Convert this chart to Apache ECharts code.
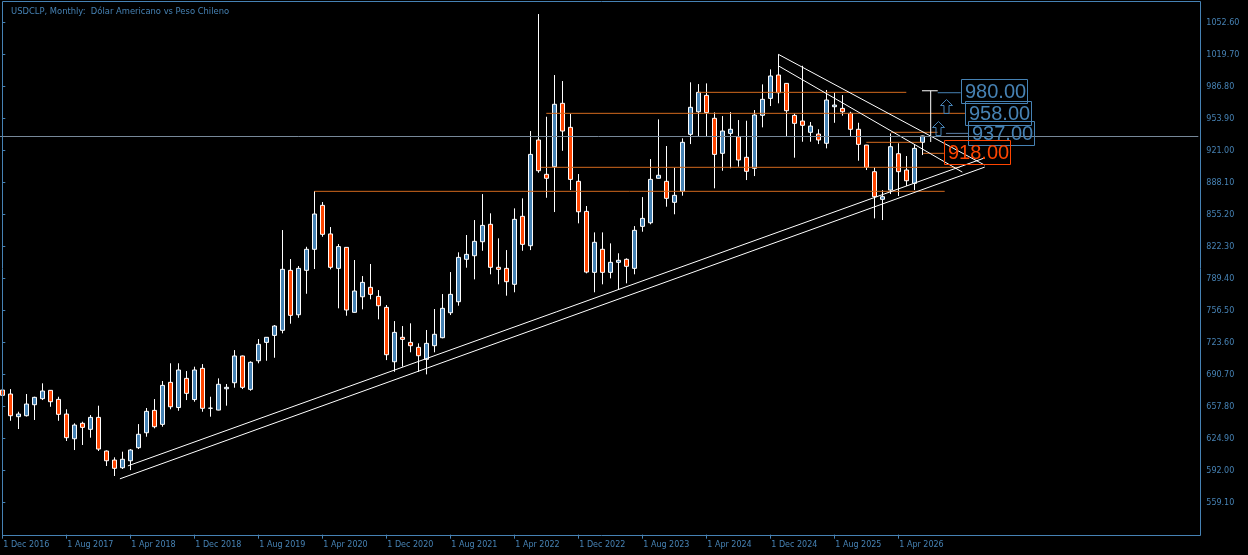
<!DOCTYPE html>
<html>
<head>
<meta charset="utf-8">
<script src="https://cdn.jsdelivr.net/npm/echarts@6/dist/echarts.min.js"></script>
<style>
  html, body { margin: 0; padding: 0; background: #000; }
  #chart { width: 1248px; height: 555px; }
</style>
</head>
<body>
<div id="chart"></div>
<script>
// meses (eje X): Dec 2016 ... con huecos a la derecha
const monthNames = ['Jan', 'Feb', 'Mar', 'Apr', 'May', 'Jun', 'Jul', 'Aug', 'Sep', 'Oct', 'Nov', 'Dec'];
const slotCount = 150;
const lastDataIndex = 115;
const categories = [];
for (let i = 0; i < slotCount; i++) {
  const m = (11 + i) % 12;
  const y = 2016 + Math.floor((11 + i) / 12);
  categories.push('1 ' + monthNames[m] + ' ' + y);
}

// velas mensuales USDCLP
const opens = [674.9, 670.8, 647.5, 648.5, 659.8, 666.0, 674.6, 665.3, 650.2, 624.8, 640.7, 634.5, 646.8, 612.2, 602.9, 595.0, 602.2, 615.6, 631.0, 654.0,
  639.6, 682.8, 656.9, 686.9, 665.1, 697.2, 656.3, 654.3, 676.2, 682.4, 709.9, 675.6, 705.0, 723.9, 731.1, 736.3, 798.0, 752.3, 798.0, 819.6,
  864.8, 835.4, 800.0, 821.6, 754.8, 770.8, 780.5, 771.2, 759.9, 704.0, 729.1, 723.9, 718.8, 706.5, 720.5, 728.7, 754.4, 765.7, 809.3, 813.0,
  827.4, 845.3, 801.1, 800.0, 783.6, 853.5, 823.3, 932.0, 896.7, 904.5, 969.7, 945.0, 889.5, 858.6, 795.9, 819.6, 795.9, 806.2, 809.3, 800.0,
  843.2, 846.9, 892.6, 889.5, 867.9, 879.2, 937.8, 961.0, 977.9, 954.3, 918.3, 938.8, 935.3, 914.2, 902.9, 957.4, 974.8, 998.8, 990.2, 957.3,
  951.5, 939.9, 938.1, 928.6, 966.2, 964.5, 959.4, 943.0, 926.8, 899.4, 871.0, 880.5, 917.9, 901.1, 887.4, 929.6];
const closes = [669.5, 648.5, 650.2, 660.5, 667.4, 673.9, 662.9, 649.9, 625.9, 638.9, 636.5, 646.8, 614.2, 602.2, 594.4, 603.7, 613.2, 629.4, 653.0, 637.2,
  679.7, 657.7, 695.5, 671.5, 695.5, 656.1, 656.1, 680.8, 677.7, 709.9, 677.7, 703.4, 721.9, 729.1, 740.7, 799.0, 751.7, 800.0, 819.6, 855.9,
  835.0, 801.1, 822.4, 757.2, 776.7, 785.6, 773.3, 761.6, 711.2, 734.2, 727.0, 720.5, 710.2, 722.9, 732.2, 758.9, 773.3, 811.3, 814.4, 827.8,
  844.2, 801.1, 799.0, 786.3, 850.4, 824.7, 917.2, 900.4, 892.6, 968.7, 941.2, 891.5, 858.2, 796.2, 826.8, 795.9, 806.2, 808.3, 802.1, 839.1,
  851.4, 891.5, 895.7, 872.0, 875.1, 929.6, 965.6, 981.0, 960.2, 917.2, 941.2, 943.0, 911.4, 899.8, 957.7, 973.8, 997.8, 980.6, 962.1, 949.1,
  947.1, 946.3, 932.0, 973.1, 967.9, 961.0, 943.0, 927.5, 903.9, 873.7, 873.7, 925.1, 899.4, 890.1, 923.4, 936.1];
const lows = [666.7, 643.3, 634.8, 647.7, 644.1, 664.6, 657.7, 643.3, 622.5, 613.2, 618.4, 625.9, 612.2, 596.8, 586.5, 593.7, 592.6, 614.2, 626.9, 635.5,
  637.2, 655.1, 653.6, 664.6, 662.9, 652.6, 647.5, 654.0, 658.8, 677.3, 675.9, 674.2, 702.4, 705.0, 708.1, 733.2, 743.1, 749.2, 773.9, 799.3,
  832.5, 799.0, 758.9, 751.3, 754.5, 757.9, 768.2, 747.6, 705.7, 693.7, 698.9, 713.7, 693.7, 691.0, 713.7, 728.1, 752.0, 761.6, 800.7, 788.7,
  818.1, 793.9, 783.6, 771.9, 775.4, 818.1, 818.8, 898.3, 872.6, 857.9, 920.9, 880.5, 846.3, 794.9, 775.4, 783.6, 789.7, 778.4, 784.6, 793.9,
  837.7, 845.3, 892.3, 863.4, 855.6, 874.7, 927.8, 935.6, 936.1, 882.3, 900.4, 902.9, 904.5, 890.8, 894.9, 945.0, 966.9, 969.7, 936.1, 913.8,
  930.2, 930.2, 927.8, 923.4, 949.7, 957.0, 936.1, 910.7, 901.1, 851.4, 849.7, 876.4, 874.4, 884.7, 880.5, 916.5];
const highs = [677.0, 675.9, 652.6, 670.8, 668.0, 681.8, 674.9, 668.0, 655.1, 640.7, 642.3, 649.2, 658.8, 612.8, 605.7, 611.5, 614.2, 639.9, 656.4, 665.6,
  684.2, 702.4, 702.4, 694.4, 698.9, 701.6, 668.0, 686.9, 681.1, 716.0, 710.3, 704.4, 727.3, 729.4, 741.7, 839.4, 809.6, 802.4, 822.2, 879.5,
  868.2, 842.5, 825.0, 821.9, 808.6, 792.1, 804.5, 777.7, 762.3, 745.8, 740.7, 743.5, 722.9, 736.6, 758.2, 773.6, 796.2, 816.5, 834.3, 849.7,
  876.4, 856.6, 830.9, 818.8, 861.7, 872.0, 941.2, 1061.5, 955.9, 998.8, 992.6, 958.7, 897.0, 864.1, 837.0, 837.0, 825.7, 815.5, 810.3, 843.5,
  873.3, 912.4, 953.2, 925.8, 903.5, 933.7, 991.3, 989.5, 990.2, 960.4, 956.6, 960.7, 952.5, 951.8, 962.8, 989.2, 1004.6, 1020.1, 990.5, 959.4,
  1008.3, 950.5, 943.0, 983.4, 981.0, 978.2, 961.0, 949.7, 927.0, 903.9, 880.5, 938.8, 928.6, 915.5, 926.8, 936.4];

// precio actual (línea gris)
const lastPrice = 935.8;

// niveles horizontales: [precio, desde índice, hasta índice]
const levels = [
  [879.2, 39, 117.8],
  [903.9, 67.3, 119.7],
  [959.4, 68.0, 120.4],
  [981.0, 87.0, 113.0],
  [939.9, 111.1, 116.9],
  [929.6, 108.0, 114.9],
  [918.3, 115.1, 117.7]
];

// líneas de tendencia: [[índice, precio], [índice, precio]]
const trendLines = [
  [[15.7, 596.9], [122.8, 913.6]],
  [[14.7, 583.6], [122.8, 904.1]],
  [[97.0, 1020.1], [122.8, 906.2]],
  [[97.0, 1008.3], [120.0, 899.0]]
];

// medición (corchete blanco) y conectores
const bracket = [[[116.05, 982.6], [116.05, 929.9]], [[114.96, 982.6], [116.93, 982.6]]];
const connectors = [
  [[116.93, 980.6], [119.8, 980.6]],
  [[117.96, 938.8], [120.75, 938.8]]
];

// etiquetas de precio: texto, esquina superior izquierda [índice, precio]
const priceTags = [
  { text: '980.00', at: [119.80, 994.7], kind: 'up' },
  { text: '958.00', at: [120.37, 972.0], kind: 'up' },
  { text: '937.00', at: [120.75, 951.5], kind: 'up' },
  { text: '918.00', at: [117.71, 932.0], kind: 'down' }
];
// flechas: centro [índice, precio]
const arrows = [[117.96, 966.9], [116.96, 944.0]];

const BLUE = '#4682B4';
const ORANGE = '#FF4500';
const LEVEL = '#D2691E';
const FONT = '"DejaVu Sans", sans-serif';

const candleData = opens.map((o, i) => [o, closes[i], lows[i], highs[i]]);

function seg(points, color) {
  return {
    type: 'line',
    xAxisIndex: 1,
    yAxisIndex: 0,
    data: points,
    symbol: 'none',
    silent: true,
    lineStyle: { color: color, width: 1 },
    z: 3
  };
}

const series = [
  {
    name: 'USDCLP',
    type: 'candlestick',
    xAxisIndex: 0,
    yAxisIndex: 0,
    data: candleData,
    barWidth: 5,
    itemStyle: {
      color: BLUE,
      color0: ORANGE,
      borderColor: '#ffffff',
      borderColor0: '#ffffff',
      borderWidth: 1
    },
    markLine: {
      silent: true,
      symbol: 'none',
      label: { show: false },
      lineStyle: { color: '#778899', width: 1, type: 'solid' },
      data: [{ yAxis: lastPrice }]
    },
    z: 2
  }
];
levels.forEach(l => series.push(seg([[l[1], l[0]], [l[2], l[0]]], LEVEL)));
trendLines.forEach(t => series.push(seg(t, '#ffffff')));
bracket.forEach(b => series.push(seg(b, '#ffffff')));
series.push(seg(connectors[0], BLUE));
series.push(seg(connectors[1], '#5a7fa8'));

const chart = echarts.init(document.getElementById('chart'));
chart.setOption({
  backgroundColor: '#000000',
  animation: false,
  title: {
    text: 'USDCLP, Monthly:  Dólar Americano vs Peso Chileno',
    left: 6,
    top: 3,
    textStyle: { color: BLUE, fontSize: 8.4, fontWeight: 'normal', fontFamily: FONT }
  },
  grid: { left: -1.7, top: -9.3, width: 1200, height: 543.96, outerBoundsMode: 'none' },
  xAxis: [
    {
      type: 'category',
      data: categories,
      boundaryGap: true,
      axisLine: { show: false },
      axisTick: {
        show: true,
        alignWithLabel: true,
        length: 4,
        interval: (idx) => idx % 8 === 0 && idx <= lastDataIndex,
        lineStyle: { color: BLUE }
      },
      axisLabel: {
        interval: (idx) => idx % 8 === 0 && idx <= lastDataIndex,
        color: BLUE,
        fontSize: 8,
        fontFamily: FONT,
        align: 'left',
        margin: 6,
        padding: [0, 0, 0, 1]
      },
      splitLine: { show: false }
    },
    {
      type: 'value',
      show: false,
      min: -0.5,
      max: slotCount - 0.5
    }
  ],
  yAxis: {
    type: 'value',
    position: 'right',
    offset: 2,
    min: 526.2,
    max: 1085.5,
    interval: 32.9,
    axisLine: { show: false },
    axisTick: { show: true, length: 3, lineStyle: { color: BLUE } },
    axisLabel: {
      color: BLUE,
      fontSize: 8,
      fontFamily: FONT,
      margin: 6,
      showMinLabel: false,
      showMaxLabel: false,
      formatter: (v) => v.toFixed(2)
    },
    splitLine: { show: false }
  },
  series: series
});

// etiquetas y flechas en píxeles a partir de las escalas
const finder = { xAxisIndex: 1, yAxisIndex: 0 };
const graphics = [
  {
    type: 'rect',
    shape: { x: 2.5, y: 1.5, width: 1198, height: 534 },
    style: { fill: 'none', stroke: BLUE, lineWidth: 1 },
    silent: true,
    z: 10
  }
];
priceTags.forEach(tag => {
  const p = chart.convertToPixel(finder, tag.at);
  const c = tag.kind === 'down' ? ORANGE : BLUE;
  graphics.push({
    type: 'rect',
    shape: { x: Math.round(p[0]) + 0.5, y: Math.round(p[1]) + 0.5, width: 66, height: 24 },
    style: { fill: 'none', stroke: c, lineWidth: 1 },
    silent: true,
    z: 11
  });
  graphics.push({
    type: 'text',
    x: Math.round(p[0]) + 4,
    y: Math.round(p[1]) + 13,
    style: {
      text: tag.text,
      fill: c,
      font: '20px "Liberation Sans", sans-serif',
      verticalAlign: 'middle'
    },
    silent: true,
    z: 12
  });
});
arrows.forEach(a => {
  const p = chart.convertToPixel(finder, a);
  const cx = Math.round(p[0]) + 0.5, cy = Math.round(p[1]) + 0.5;
  graphics.push({
    type: 'polygon',
    shape: {
      points: [[cx, cy - 7], [cx + 6, cy - 1], [cx + 2.5, cy - 1], [cx + 2.5, cy + 7],
        [cx - 2.5, cy + 7], [cx - 2.5, cy - 1], [cx - 6, cy - 1]]
    },
    style: { fill: 'none', stroke: BLUE, lineWidth: 1 },
    silent: true,
    z: 11
  });
});
chart.setOption({ graphic: graphics });
</script>
</body>
</html>
